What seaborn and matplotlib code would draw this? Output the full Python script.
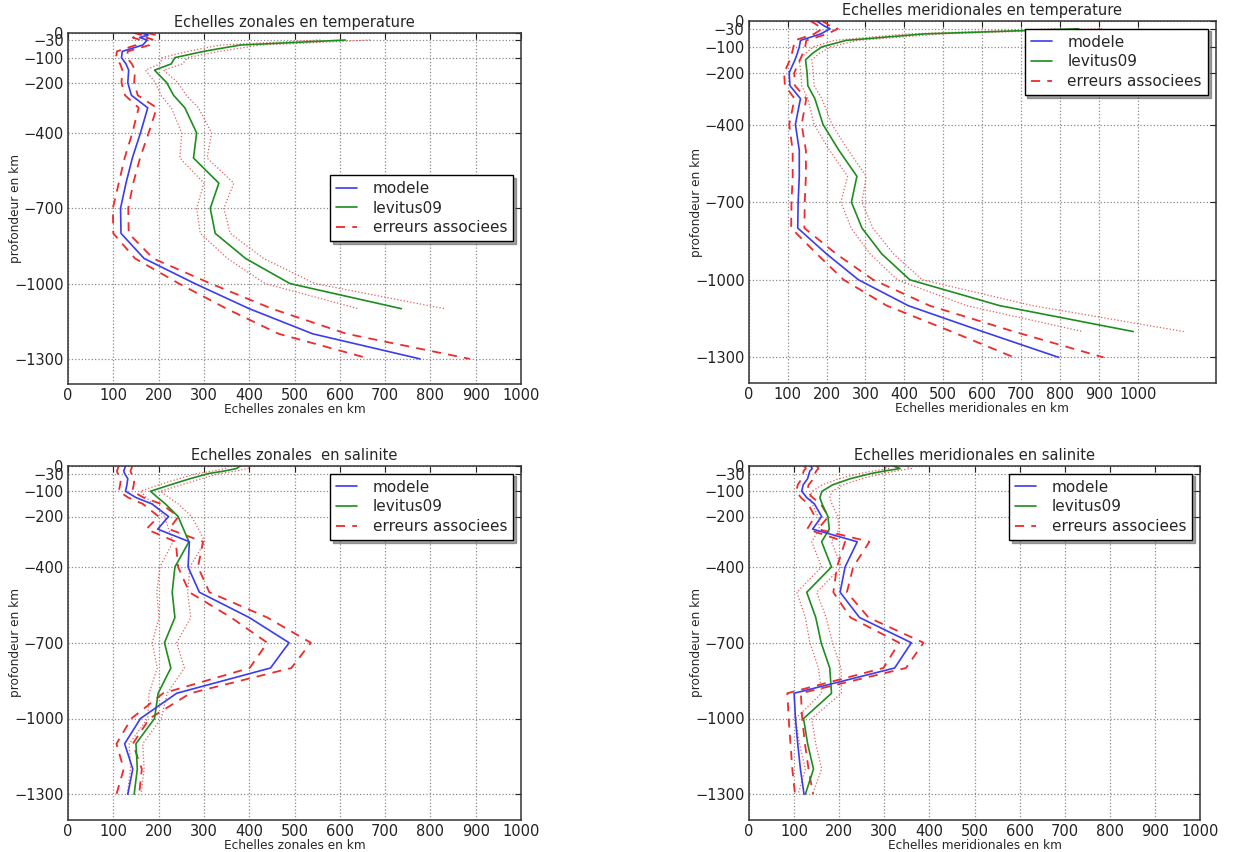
import numpy as np
import pandas as pd
import matplotlib
matplotlib.use("Agg")
import matplotlib.pyplot as plt
import seaborn as sns
from matplotlib.lines import Line2D

nan = np.nan

# ------------------------
# DATA
# ------------------------
DEPTH = [0, 10, 20, 30, 50, 75, 100, 125, 150, 200, 250, 300,
         400, 500, 600, 700, 800, 900, 1000, 1100, 1200, 1300]
YTICKS = [0, -30, -100, -200, -400, -700, -1000, -1300]
XTICKS = list(range(0, 1001, 100))
LABELS = ["modele", "levitus09", "erreurs associees"]

# zonal scales, temperature
tz_mod = [158, 177, 158, 175, 165, 120, 118, 128, 134, 132, 140, 176,
          160, 142, 128, 116, 117, 168, 280, 400, 540, 777]
tz_mod_err = [15, 15, 15, 15, 15, 12, 12, 13, 14, 14, 14, 20,
              18, 17, 16, 17, 17, 20, 35, 50, 75, 110]
tz_lev = [nan, nan, nan, 612, 380, 300, 236, 228, 191, 218, 233, 258,
          284, 277, 333, 314, 325, 392, 490, 736, nan, nan]
tz_lev_err = [nan, nan, nan, 55, 45, 35, 28, 25, 20, 25, 28, 30,
              33, 30, 33, 30, 33, 40, 55, 95, nan, nan]

# meridional scales, temperature
tm_mod = [174, 185, 195, 209, 185, 133, 130, 125, 119, 104, 106, 133,
          120, 130, 130, 127, 126, 200, 282, 410, 601, 797]
tm_mod_err = [15, 15, 15, 20, 17, 15, 15, 14, 13, 13, 13, 15,
              16, 17, 17, 17, 17, 25, 38, 55, 80, 115]
tm_lev = [nan, nan, nan, 848, 450, 250, 188, 164, 146, 150, 152, 170,
          191, 232, 278, 264, 291, 342, 414, 645, 988, nan]
tm_lev_err = [nan, nan, nan, 60, 45, 30, 22, 18, 16, 16, 16, 18,
              23, 24, 24, 27, 28, 30, 32, 85, 130, nan]

# zonal scales, salinity
sz_mod = [127, 125, 123, 125, 132, 130, 127, 150, 185, 222, 198, 268,
          265, 290, 400, 488, 447, 240, 160, 125, 143, 132]
sz_mod_err = [15, 15, 15, 15, 15, 15, 15, 17, 20, 22, 25, 30,
              22, 22, 40, 48, 46, 30, 20, 18, 20, 25]
sz_lev = [380, 372, 345, 310, 270, 225, 182, 198, 215, 243, 255, 267,
          236, 230, 236, 213, 227, 199, 191, 150, 153, 146]
sz_lev_err = [25, 25, 25, 25, 25, 25, 22, 25, 28, 30, 33, 35,
              33, 34, 35, 27, 30, 20, 15, 15, 15, 15]

# meridional scales, salinity
sm_mod = [137, 140, 135, 133, 130, 120, 117, 128, 145, 161, 141, 240,
          213, 202, 245, 360, 323, 100, 103, 108, 114, 122]
sm_mod_err = [14, 14, 14, 13, 13, 12, 12, 13, 14, 15, 12, 27,
              18, 15, 20, 27, 25, 15, 15, 16, 18, 20]
sm_lev = [320, 335, 300, 270, 225, 185, 162, 157, 162, 175, 178, 161,
          183, 128, 148, 160, 179, 183, 121, 130, 143, 125]
sm_lev_err = [25, 25, 25, 25, 25, 23, 22, 22, 22, 22, 22, 22,
              22, 22, 23, 25, 25, 22, 18, 18, 18, 16]

# ------------------------
# STYLE / LAYOUT
# ------------------------
sns.set_style("white")
plt.rcParams["font.family"] = ["DejaVu Sans"]

C_MOD = "#3b3bf2"
C_LEV = "#1e8c1e"
C_ERR = "#ee2a2a"
C_LERR = "#e06060"

W, H = 1234, 852

def px_axes(left, top, right, bottom):
    return [left / W, 1 - bottom / H, (right - left) / W, (bottom - top) / H]

panels = [
    dict(title="Echelles zonales en temperature", xlabel="Echelles zonales en km",
         mod=tz_mod, mod_err=tz_mod_err, lev=tz_lev, lev_err=tz_lev_err,
         box=(68, 32.5, 521, 384), xmax=1000, loc="center right"),
    dict(title="Echelles meridionales en temperature", xlabel="Echelles meridionales en km",
         mod=tm_mod, mod_err=tm_mod_err, lev=tm_lev, lev_err=tm_lev_err,
         box=(748.7, 21, 1215.7, 383.3), xmax=1200, loc="upper right"),
    dict(title="Echelles zonales  en salinite", xlabel="Echelles zonales en km",
         mod=sz_mod, mod_err=sz_mod_err, lev=sz_lev, lev_err=sz_lev_err,
         box=(68, 466, 521, 819.5), xmax=1000, loc="upper right"),
    dict(title="Echelles meridionales en salinite", xlabel="Echelles meridionales en km",
         mod=sm_mod, mod_err=sm_mod_err, lev=sm_lev, lev_err=sm_lev_err,
         box=(749, 466, 1200, 819.5), xmax=1000, loc="upper right"),
]

fig = plt.figure(figsize=(W / 100, H / 100), dpi=100)

for p in panels:
    ax = fig.add_axes(px_axes(*p["box"]))
    df = pd.DataFrame({
        "depth": -np.array(DEPTH, dtype=float),
        "mod": p["mod"], "mod_err": p["mod_err"],
        "lev": p["lev"], "lev_err": p["lev_err"],
    })
    df["mod_lo"] = df["mod"] - df["mod_err"]
    df["mod_hi"] = df["mod"] + df["mod_err"]
    df["lev_lo"] = df["lev"] - df["lev_err"]
    df["lev_hi"] = df["lev"] + df["lev_err"]

    common = dict(data=df, y="depth", sort=False, estimator=None, ax=ax, legend=False)
    for col in ("lev_lo", "lev_hi"):
        sns.lineplot(x=col, color=C_LERR, linestyle=":", linewidth=0.9, **common)
    for col in ("mod_lo", "mod_hi"):
        sns.lineplot(x=col, color=C_ERR, linestyle=(0, (5, 4)), linewidth=1.3, **common)
    sns.lineplot(x="lev", color=C_LEV, linewidth=1.2, **common)
    sns.lineplot(x="mod", color=C_MOD, linewidth=1.2, **common)

    ax.set_xlim(0, p["xmax"])
    ax.set_ylim(-1400, 0)
    ax.set_xticks(XTICKS)
    ax.set_yticks(YTICKS)
    ax.grid(True, linestyle=":", color="#8a8a8a", linewidth=0.9)
    ax.tick_params(direction="in", top=True, right=True, length=4, pad=3,
                   labelsize=10.5, colors="#222222")
    for s in ax.spines.values():
        s.set_color("#333333")
        s.set_linewidth(1.1)
    ax.set_title(p["title"], fontsize=10.5, pad=4)
    ax.set_xlabel(p["xlabel"], fontsize=8.7, labelpad=0)
    ax.set_ylabel("profondeur en km", fontsize=8.7)
    # y label centred ~52 px left of the axes, as in the reference
    left, top, right, bottom = p["box"]
    ax.yaxis.set_label_coords(-46 / (right - left), 0.5)

    handles = [
        Line2D([], [], color=C_MOD, linewidth=1.2),
        Line2D([], [], color=C_LEV, linewidth=1.2),
        Line2D([], [], color=C_ERR, linewidth=1.3, linestyle=(0, (5, 4))),
    ]
    leg = ax.legend(handles, LABELS, loc=p["loc"], fontsize=11, frameon=True,
                    fancybox=False, shadow=True, handlelength=1.4,
                    handletextpad=1.0, borderaxespad=0.5, labelspacing=0.3)
    leg.get_frame().set_edgecolor("black")
    leg.get_frame().set_linewidth(1.0)

fig.savefig("out.png", dpi=100)
